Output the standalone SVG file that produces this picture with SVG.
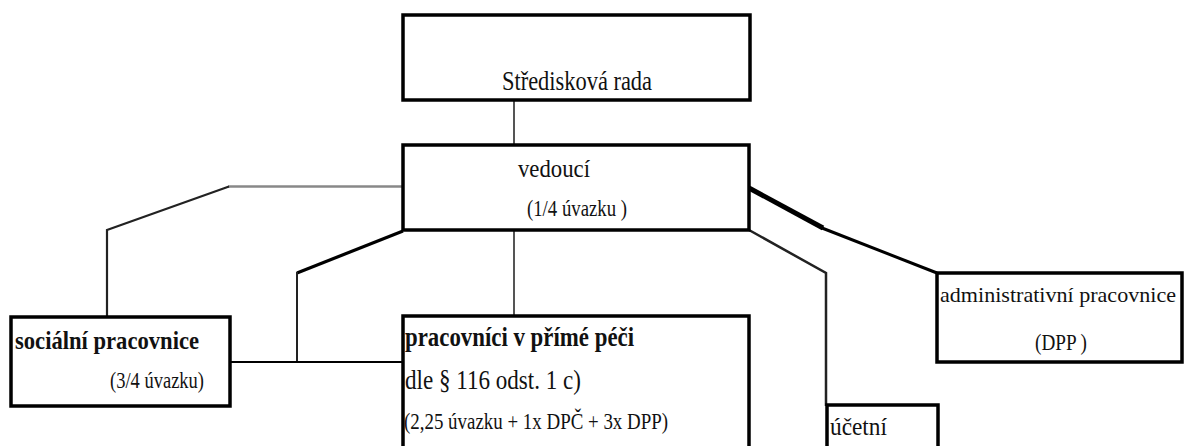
<svg xmlns="http://www.w3.org/2000/svg" width="1184" height="446" viewBox="0 0 1184 446">
<style>
.box{fill:#fff;stroke:#000;stroke-width:3.5}
.t{font-family:'Liberation Serif','Times New Roman','DejaVu Serif',serif;fill:#111}
.b{font-weight:bold}
.c{fill:none;stroke:#222;stroke-linecap:butt;stroke-linejoin:miter}
</style>
<rect width="1184" height="446" fill="#fff"/>
<g id="connectors">
<line class="c" x1="514" y1="100" x2="514" y2="145" stroke-width="2" style="stroke:#555"/>
<line class="c" x1="403" y1="186.5" x2="228" y2="186.5" stroke-width="2.5" style="stroke:#888"/>
<polyline class="c" points="229,186.5 107,230 107,317" stroke-width="2.2"/>
<line class="c" x1="514" y1="230" x2="514" y2="316" stroke-width="2" style="stroke:#555"/>
<polyline class="c" points="403,231 297,273" stroke-width="3.2" style="stroke:#000"/>
<line class="c" x1="297" y1="272" x2="297" y2="362" stroke-width="2"/>
<line class="c" x1="230" y1="362" x2="403" y2="362" stroke-width="2" style="stroke:#000"/>
<line class="c" x1="749" y1="188" x2="823" y2="228" stroke-width="5" style="stroke:#000"/>
<line class="c" x1="822" y1="228" x2="937" y2="273" stroke-width="3" style="stroke:#000"/>
<polyline class="c" points="749,230 826,273 826,406" stroke-width="2.5"/>
</g>
<g id="strediskova-rada">
<rect class="box" x="403" y="15" width="347" height="85"/>
<text class="t" x="502" y="90" font-size="28" textLength="150" lengthAdjust="spacingAndGlyphs">Středisková rada</text>
</g>
<g id="vedouci">
<rect class="box" x="403" y="145" width="346" height="85"/>
<text class="t" x="518" y="177" font-size="26" textLength="72" lengthAdjust="spacingAndGlyphs">vedoucí</text>
<text class="t" x="527" y="216" font-size="24" textLength="100" lengthAdjust="spacingAndGlyphs">(1/4 úvazku )</text>
</g>
<g id="socialni">
<rect class="box" x="11" y="317" width="219" height="89"/>
<text class="t b" x="15" y="349" font-size="26" textLength="184" lengthAdjust="spacingAndGlyphs">sociální pracovnice</text>
<text class="t" x="110" y="388" font-size="24" textLength="94" lengthAdjust="spacingAndGlyphs">(3/4 úvazku)</text>
</g>
<g id="primapece">
<rect class="box" x="403" y="316" width="346" height="150"/>
<text class="t b" x="405" y="346" font-size="27" textLength="229" lengthAdjust="spacingAndGlyphs">pracovníci v přímé péči</text>
<text class="t" x="405" y="389" font-size="28" textLength="176" lengthAdjust="spacingAndGlyphs">dle § 116 odst. 1 c)</text>
<text class="t" x="404" y="429" font-size="24" textLength="264" lengthAdjust="spacingAndGlyphs">(2,25 úvazku + 1x DPČ + 3x DPP)</text>
</g>
<g id="administrativni">
<rect class="box" x="937" y="273" width="245" height="89"/>
<text class="t" x="940" y="302" font-size="22" textLength="236" lengthAdjust="spacingAndGlyphs">administrativní pracovnice</text>
<text class="t" x="1035" y="350" font-size="24" textLength="52" lengthAdjust="spacingAndGlyphs">(DPP )</text>
</g>
<g id="ucetni">
<rect class="box" x="827" y="405" width="111" height="60"/>
<text class="t" x="830" y="435" font-size="26" textLength="57" lengthAdjust="spacingAndGlyphs">účetní</text>
</g>
</svg>
